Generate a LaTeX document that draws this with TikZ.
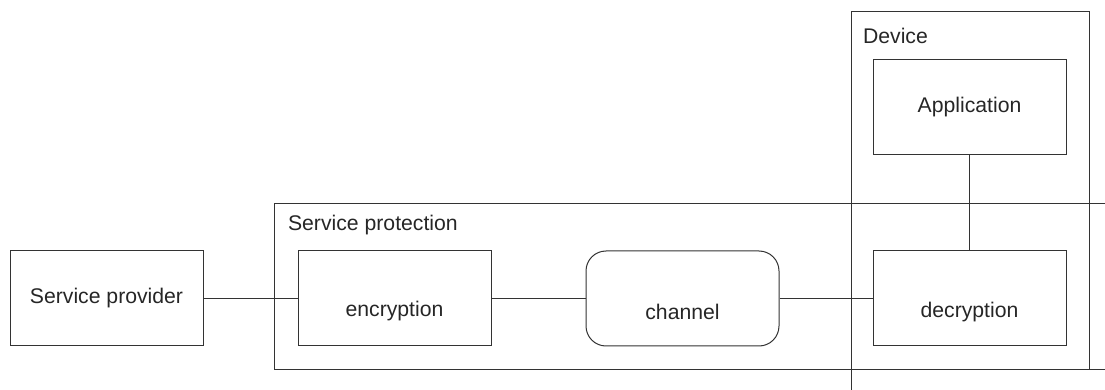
\documentclass[tikz,border=0pt]{standalone}
\usepackage{fontspec}
\setmainfont{Liberation Sans}
\begin{document}
\begin{tikzpicture}[x=0.5pt,y=-0.5pt,
  every node/.style={font=\fontsize{10.6pt}{12pt}\selectfont, text=black!85},
  blk/.style={draw=black!80, line width=0.5pt, minimum width=96.5pt, minimum height=47.5pt, inner sep=0pt},
  rblk/.style={blk, rounded corners=10pt},
  frame/.style={draw=black!80, line width=0.5pt},
  conn/.style={draw=black!80, line width=0.5pt}]
\useasboundingbox (0,0) rectangle (1105,390);
% frames
\draw[frame] (1105,204) -- (274,204) -- (274,370) -- (1105,370);
\draw[frame] (851,390) -- (851,12) -- (1089,12) -- (1089,370);
\node[anchor=west] (devlbl) at (856,36) {Device};
\node[anchor=west] (splbl) at (281,225) {Service protection};
% blocks
\node[blk] (sp) at (106.5,298.5) {Service provider};
\node[blk, label={[yshift=-6.5pt]center:encryption}] (enc) at (394.5,298.5) {};
\node[rblk, label={[yshift=-6.5pt]center:channel}] (ch) at (682.5,298.5) {};
\node[blk, label={[yshift=-7pt]center:decryption}] (dec) at (969.5,298.5) {};
\node[blk] (app) at (969.5,107.5) {Application};
% connectors
\draw[conn] (sp.east) -- (enc.west);
\draw[conn] (enc.east) -- (ch.west);
\draw[conn] (ch.east) -- (dec.west);
\draw[conn] (app.south) -- (dec.north);
\end{tikzpicture}
\end{document}
